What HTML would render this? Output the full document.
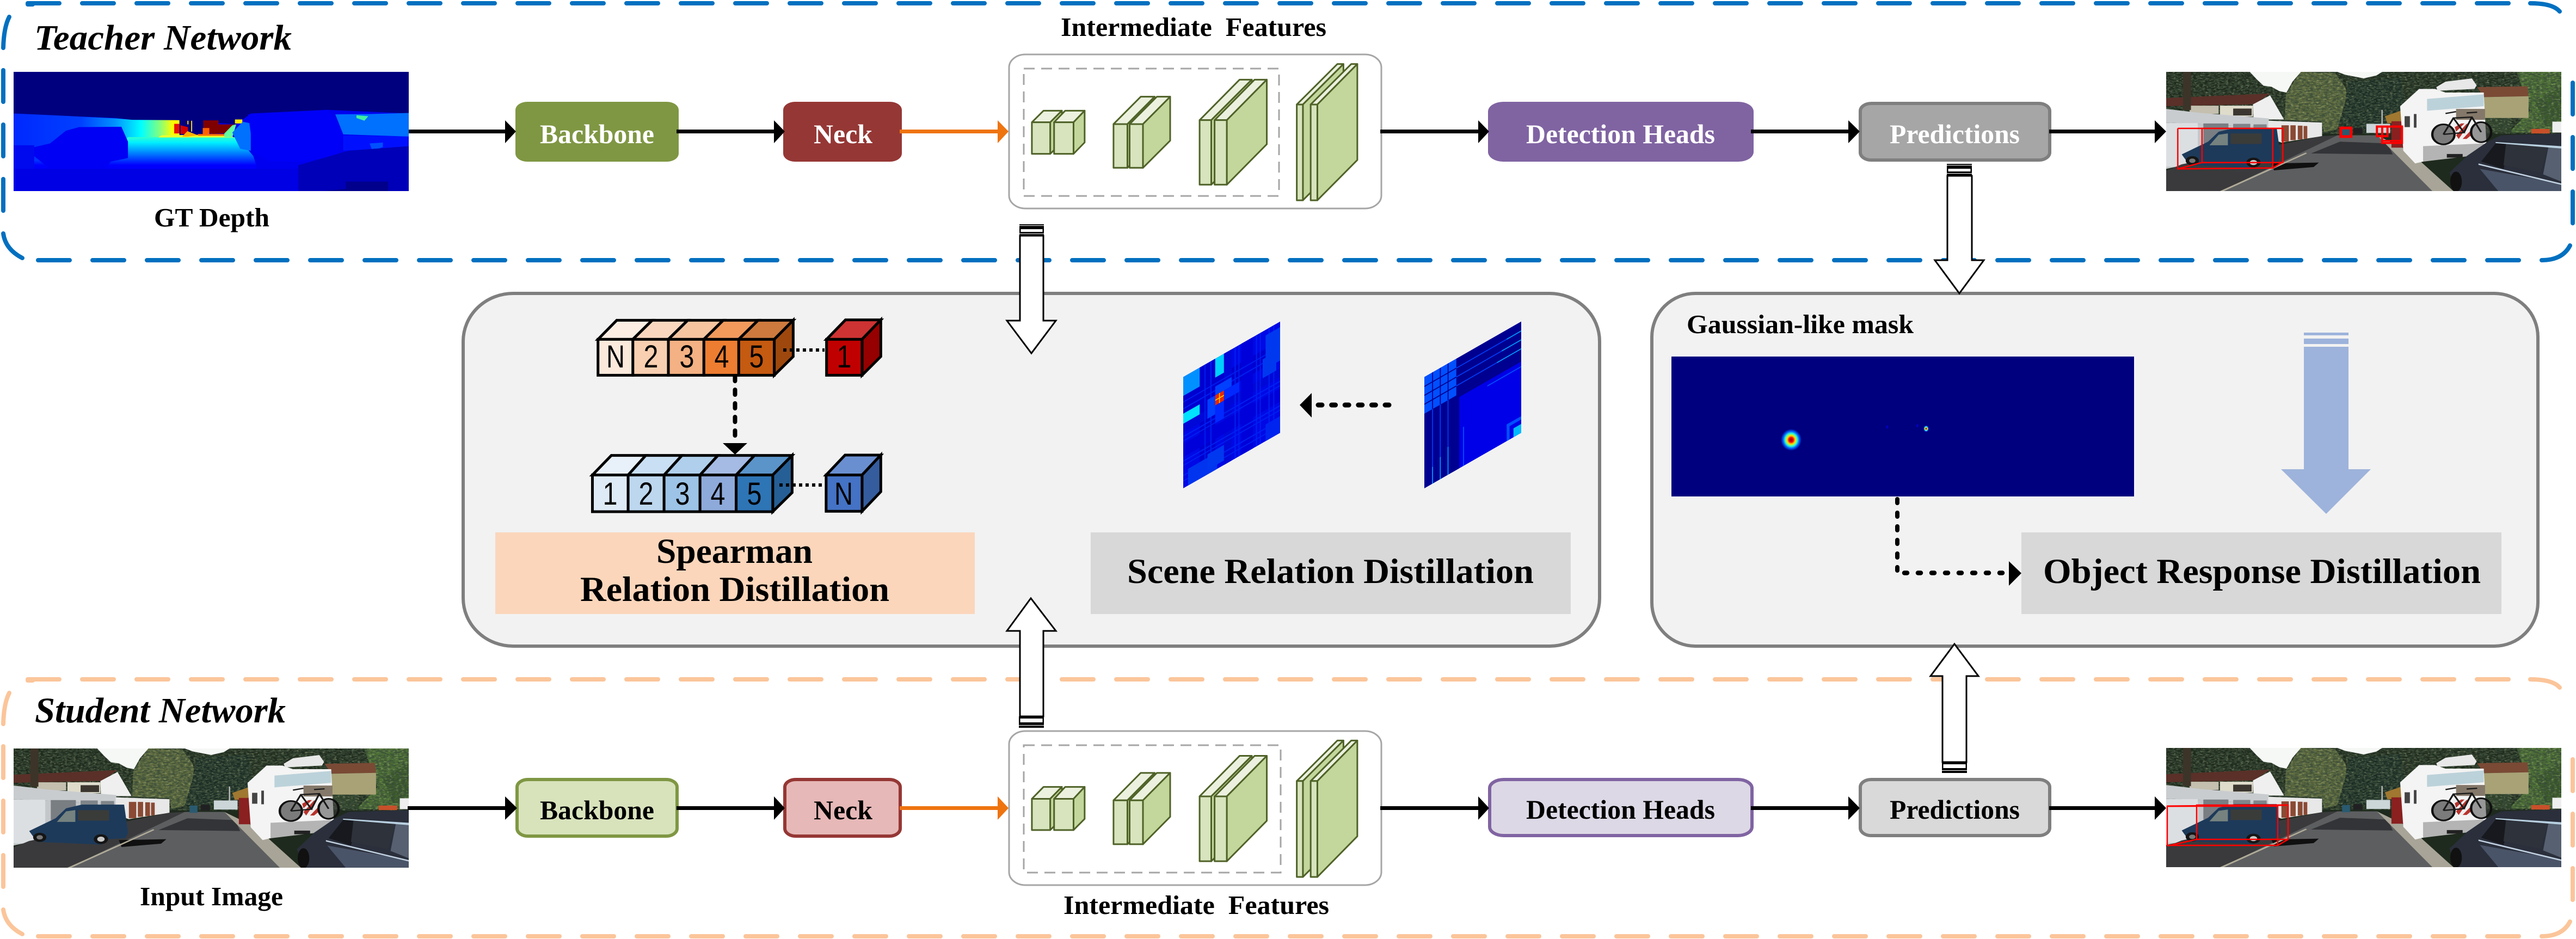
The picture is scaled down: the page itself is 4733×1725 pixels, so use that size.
<!DOCTYPE html>
<html>
<head>
<meta charset="utf-8">
<style>
html,body{margin:0;padding:0;background:#fff;width:4733px;height:1725px;overflow:hidden}
svg{display:block}
text{font-family:"Liberation Serif",serif;font-weight:bold;white-space:pre}
.d{font-family:"Liberation Sans",sans-serif;font-weight:normal;font-size:58px;text-anchor:middle;fill:#000}
.blk *{vector-effect:non-scaling-stroke;stroke:#4F6228;stroke-width:3;stroke-linejoin:round}
.f{fill:#D7E4BD}.t{fill:#EBF1DE}.s{fill:#C3D69B}
.cube *{vector-effect:non-scaling-stroke;stroke:#000;stroke-width:5;stroke-linejoin:miter}
.rb *{vector-effect:non-scaling-stroke;fill:none;stroke:#f00;stroke-width:2.5}
</style>
</head>
<body>
<svg xmlns="http://www.w3.org/2000/svg" width="4733" height="1725" viewBox="0 0 4733 1725">
<defs>
<linearGradient id="road" x1="0" y1="0" x2="0" y2="1">
<stop offset="0" stop-color="#30ffd0"/><stop offset=".1" stop-color="#00f0ff"/><stop offset=".27" stop-color="#0090ff"/><stop offset=".52" stop-color="#0000ff"/><stop offset="1" stop-color="#0000d8"/>
</linearGradient>
<linearGradient id="wall" x1="0" y1="0" x2="1" y2="0">
<stop offset="0" stop-color="#0028ff"/><stop offset=".3" stop-color="#0040ff"/><stop offset=".45" stop-color="#0090ff"/><stop offset=".57" stop-color="#00ffff"/><stop offset=".66" stop-color="#90ff70"/><stop offset=".71" stop-color="#ffff00"/><stop offset="1" stop-color="#ffff00"/>
</linearGradient>
<radialGradient id="gs">
<stop offset="0" stop-color="#900000"/><stop offset=".2" stop-color="#f00000"/><stop offset=".4" stop-color="#ffe000"/><stop offset=".58" stop-color="#30ffd0"/><stop offset=".78" stop-color="#0060ff"/><stop offset="1" stop-color="#00007F"/>
</radialGradient>
<filter id="dapD" x="0" y="0" width="1" height="1"><feTurbulence type="fractalNoise" baseFrequency=".07 .11" numOctaves="3" seed="4"/><feColorMatrix values="0 0 0 0 .04  0 0 0 0 .07  0 0 0 0 .04  3.4 0 0 0 -1.3"/></filter>
<filter id="dapL" x="0" y="0" width="1" height="1"><feTurbulence type="fractalNoise" baseFrequency=".09 .13" numOctaves="3" seed="11"/><feColorMatrix values="0 0 0 0 .42  0 0 0 0 .48  0 0 0 0 .26  3.4 0 0 0 -1.7"/></filter>
<g id="scene">
<rect x="41" y="36" width="1498" height="656" fill="#1e2a1d"/>
<polygon points="495,160 550,36 680,40 720,120 740,260 690,350 640,370 630,310 490,300" fill="#5f6b3e"/>
<polygon points="730,90 930,70 950,260 900,350 690,350 720,200" fill="#1a2c24"/>
<polygon points="1370,36 1539,36 1539,370 1340,370 1420,250" fill="#4c7034"/>
<polygon points="1440,200 1539,120 1539,300 1480,340" fill="#3a5a2a"/>
<rect x="1250" y="180" width="100" height="190" fill="#2c3f28"/>
<rect x="41" y="36" width="1498" height="340" filter="url(#dapL)" opacity=".55"/>
<rect x="41" y="36" width="1498" height="340" filter="url(#dapD)" opacity=".8"/>
<polygon points="358,36 552,36 520,90 497,150 470,142 440,118 410,112 385,78" fill="#f6f8f6"/>
<polygon points="690,36 860,36 838,56 790,72 720,52" fill="#f6f8f6"/>
<polygon points="870,280 930,250 940,310 880,320" fill="#a07830"/>
<rect x="857" y="245" width="5" height="90" fill="#bbb"/>
<polygon points="1220,120 1410,115 1415,170 1245,175" fill="#7a4a35"/>
<polygon points="1245,175 1415,170 1415,290 1250,290" fill="#a9a277"/>
<polygon points="41,180 435,155 375,215 130,222 41,225" fill="#5a3028"/>
<polygon points="370,215 435,165 488,298 428,298 372,290" fill="#efefef"/>
<rect x="130" y="222" width="110" height="45" fill="#c4bfae"/>
<rect x="245" y="222" width="125" height="60" fill="#dfdccc"/>
<rect x="295" y="238" width="70" height="38" fill="#3c3630"/>
<rect x="105" y="36" width="30" height="210" fill="#3c3428"/>
<polygon points="41,240 172,262 430,292 430,340 41,315" fill="#c9cccf"/>
<polygon points="41,315 430,340 430,450 41,570" fill="#c4c7ca"/>
<rect x="41" y="318" width="120" height="240" fill="#dcdfe2"/>
<rect x="182" y="320" width="95" height="110" fill="#797e83"/>
<rect x="295" y="322" width="65" height="60" fill="#7f858a"/>
<rect x="372" y="325" width="50" height="60" fill="#7f858a"/>
<polygon points="428,305 632,315 632,390 478,425 428,400" fill="#e8e8e8"/>
<rect x="478" y="330" width="28" height="90" fill="#8a4a34"/><rect x="512" y="330" width="20" height="82" fill="#8a4a34"/><rect x="540" y="332" width="18" height="76" fill="#8a4a34"/><rect x="562" y="334" width="14" height="70" fill="#8a4a34"/>
<polygon points="41,580 100,545 630,390 690,385 250,692 41,692" fill="#3a3a3c"/>
<polygon points="250,692 690,385 840,385 1050,692" fill="#5d5e60"/>
<polygon points="590,485 700,420 880,430 900,490" fill="#333437"/>
<polygon points="440,540 620,535 600,560 450,578" fill="#101010"/>
<polygon points="840,385 960,470 1130,692 1050,692" fill="#a8a598"/>
<polygon points="245,692 570,480 575,485 260,692" fill="#b0ab98"/>
<rect x="800" y="322" width="90" height="50" fill="#ccd5d8"/>
<rect x="708" y="350" width="30" height="40" fill="#2a5a70"/>
<rect x="750" y="345" width="35" height="32" fill="#202022"/>
<rect x="895" y="308" width="50" height="145" fill="#8a2020"/>
<polygon points="100,490 200,420 240,365 300,345 460,345 475,500 465,530 400,535 375,565 130,550" fill="#1d3a5a"/>
<polygon points="205,440 240,382 275,375 275,440" fill="#75827f"/>
<rect x="285" y="375" width="118" height="58" fill="#3a3c3a"/>
<circle cx="140" cy="525" r="25" fill="#151515"/><circle cx="140" cy="525" r="12" fill="#777"/>
<circle cx="372" cy="535" r="27" fill="#151515"/><circle cx="372" cy="535" r="14" fill="#c8c8c8"/>
<polygon points="928,225 1000,130 1060,130 1100,150 1245,150 1255,430 1245,485 1015,530 985,540 940,470" fill="#f4f4f4"/>
<polygon points="1065,120 1100,90 1200,72 1218,110 1210,130 1070,140" fill="#e8e8e8"/>
<polygon points="1030,185 1245,160 1245,225 1030,250" fill="#bcd2da"/>
<polygon points="1015,445 1245,430 1245,490 1015,530" fill="#b4b4b4"/>
<rect x="1140" y="240" width="110" height="60" fill="#84786a"/>
<rect x="945" y="280" width="20" height="60" fill="#444"/><rect x="980" y="268" width="10" height="75" fill="#444"/>
<rect x="1105" y="488" width="60" height="20" fill="#222"/>
<polygon points="1130,320 1190,318 1198,405 1135,405" fill="#eeeeee"/>
<polygon points="1135,340 1160,320 1172,320 1140,365" fill="#b8322c"/><polygon points="1140,385 1180,322 1190,322 1150,405" fill="#b8322c"/><polygon points="1165,405 1195,360 1197,385 1180,405" fill="#b8322c"/>
<ellipse cx="1092" cy="380" rx="42" ry="55" fill="#3a3a3a" fill-opacity=".65" stroke="#101010" stroke-width="9"/>
<ellipse cx="1235" cy="368" rx="38" ry="55" fill="#3a3a3a" fill-opacity=".5" stroke="#101010" stroke-width="9"/>
<path d="M1092,380 L1130,290 L1200,285 L1235,368 M1130,290 L1170,370 L1092,380 M1170,370 L1200,285 M1100,265 L1140,255 M1180,262 L1220,258" fill="none" stroke="#1a1a1a" stroke-width="7"/>
<rect x="1425" y="350" width="70" height="25" fill="#c8502a"/>
<rect x="1505" y="310" width="34" height="60" fill="#eee"/>
<polygon points="1115,590 1180,500 1260,420 1310,385 1539,375 1539,692 1140,692" fill="#2a2f3b"/>
<polygon points="1235,530 1290,430 1350,425 1320,570" fill="#17191e"/>
<polygon points="1330,425 1490,442 1460,590 1320,550" fill="#2e323a"/>
<polygon points="1490,450 1539,458 1539,640 1470,600" fill="#566070"/>
<polygon points="1290,422 1539,445 1539,458 1290,428" fill="#b8d0e0"/>
<polygon points="1230,570 1539,650 1539,692 1300,692" fill="#4a5468"/>
<polygon points="1225,540 1539,650 1539,658 1225,548" fill="#c0d0e0"/>
<ellipse cx="1140" cy="640" rx="22" ry="55" fill="#111"/>
</g>
</defs>

<rect width="4733" height="1725" fill="#fff"/>

<!-- Teacher frame -->
<g fill="none" stroke="#0070C0" stroke-width="8" stroke-linecap="round">
<line x1="51" y1="6" x2="4640" y2="6" stroke-dasharray="58 42"/>
<line x1="70" y1="478" x2="4660" y2="478" stroke-dasharray="58 42"/>
<line x1="6" y1="129" x2="6" y2="400" stroke-dasharray="58 42"/>
<line x1="4727" y1="152" x2="4727" y2="420" stroke-dasharray="58 42"/>
<path d="M51,8 H60"/>
<path d="M6,88 Q7,50 17,31"/>
<path d="M6,429 Q10,458 41,474"/>
<path d="M4649,6 Q4690,6 4703,21"/>
<path d="M4722,451 Q4708,478 4670,478"/>
</g>
<!-- Student frame -->
<g fill="none" stroke="#FBC59A" stroke-width="8" stroke-linecap="round">
<line x1="51" y1="1248" x2="4640" y2="1248" stroke-dasharray="58 42"/>
<line x1="70" y1="1720" x2="4660" y2="1720" stroke-dasharray="58 42"/>
<line x1="6" y1="1371" x2="6" y2="1640" stroke-dasharray="58 42"/>
<line x1="4727" y1="1395" x2="4727" y2="1660" stroke-dasharray="58 42"/>
<path d="M51,1250 H60"/>
<path d="M6,1330 Q7,1292 17,1273"/>
<path d="M6,1671 Q10,1700 41,1716"/>
<path d="M4649,1248 Q4690,1248 4703,1263"/>
<path d="M4722,1693 Q4708,1720 4670,1720"/>
</g>

<text x="63" y="91" font-size="66" font-style="italic" textLength="473" lengthAdjust="spacingAndGlyphs">Teacher Network</text>
<text x="64" y="1327" font-size="66" font-style="italic" textLength="461" lengthAdjust="spacingAndGlyphs">Student Network</text>

<!-- Depth -->
<svg x="25" y="132" width="726" height="219" viewBox="52 36 1496 656" preserveAspectRatio="none">
<rect x="52" y="36" width="1496" height="656" fill="#00007F"/>
<polygon points="52,265 200,275 440,290 500,300 690,302 895,325 950,265 1240,245 1548,265 1548,692 52,692" fill="#0000f0"/>
<polygon points="52,265 200,275 440,292 500,300 680,302 680,400 900,400 900,560 52,560" fill="url(#wall)"/>
<polygon points="485,395 900,395 960,500 1000,692 52,692 52,520 400,520" fill="url(#road)"/>
<polygon points="612,385 870,380 885,397 600,397" fill="#e8ff30"/>
<polygon points="52,440 130,440 130,692 52,692" fill="#0008ee"/>
<rect x="52" y="570" width="1100" height="122" fill="#0000e4"/>
<polygon points="660,322 680,322 680,375 660,375" fill="#e81000"/>
<polygon points="684,330 710,340 710,378 684,378" fill="#d00000"/>
<polygon points="710,360 750,385 710,392 690,392" fill="#ffb000"/>
<rect x="680" y="302" width="90" height="80" fill="#00007F"/>
<polygon points="684,330 712,340 712,378 684,378" fill="#d00000"/>
<polygon points="710,362 750,385 710,392 690,392" fill="#ffb000"/>
<polygon points="770,303 828,303 828,325 895,325 850,375 800,378 770,345" fill="#7f0000"/>
<rect x="768" y="345" width="25" height="40" fill="#ff6000"/>
<rect x="750" y="378" width="100" height="10" fill="#ff7000"/>
<rect x="890" y="298" width="28" height="22" fill="#ffe800"/>
<polygon points="850,375 880,330 895,325 880,395 850,395" fill="#60ffa0"/>
<rect x="710" y="305" width="4" height="20" fill="#ffe000"/><rect x="724" y="305" width="4" height="60" fill="#ffe000"/>
<polygon points="880,370 920,310 950,320 950,470 910,460" fill="#0070ff"/>
<polygon points="130,450 190,430 250,360 300,340 460,338 485,420 485,510 420,530 400,570 190,570 130,500" fill="#0000f4"/>
<polygon points="940,270 1240,245 1270,300 1300,380 1280,500 1140,530 1020,530 960,480" fill="#0000f8"/>
<polygon points="1270,270 1400,268 1548,262 1548,392 1300,380" fill="#0070ff"/>
<polygon points="1350,275 1395,280 1380,305 1350,290" fill="#40f0a0"/>
<polygon points="1300,385 1548,392 1548,450 1300,470" fill="#0010ff"/>
<polygon points="1400,430 1450,425 1450,450 1410,470" fill="#0050ff"/>
<polygon points="1130,550 1320,470 1548,445 1548,692 1130,692" fill="#0000b8"/>
<polygon points="1310,640 1470,640 1470,692 1220,692 1310,680" fill="#00008c"/>
</svg>
<text x="283" y="416" font-size="49" textLength="212" lengthAdjust="spacingAndGlyphs">GT Depth</text>

<!-- Teacher pred -->
<svg x="3980" y="132" width="726" height="219" viewBox="41 36 1498 656" preserveAspectRatio="none">
<use href="#scene"/>
<g class="rb">
<polyline points="85,347 483,347 483,532 445,565 85,570 85,347"/>
<line x1="445" y1="347" x2="445" y2="565"/>
<rect x="177" y="347" width="306" height="188"/>
<line x1="85" y1="570" x2="177" y2="535"/>
<rect x="703" y="345" width="39" height="47" style="stroke-width:5"/>
<rect x="840" y="337" width="40" height="53" style="stroke-width:4"/>
<rect x="860" y="337" width="75" height="90" style="stroke-width:4"/>
<line x1="860" y1="415" x2="935" y2="415" style="stroke-width:3"/>
</g>
</svg>

<!-- Student images -->
<svg x="25" y="1375" width="726" height="219" viewBox="41 36 1498 656" preserveAspectRatio="none"><use href="#scene"/></svg>
<text x="257" y="1663" font-size="49" textLength="263" lengthAdjust="spacingAndGlyphs">Input Image</text>
<svg x="3980" y="1374" width="726" height="219" viewBox="41 36 1498 656" preserveAspectRatio="none"><use href="#scene"/></svg>
<g fill="none" stroke="#f00" stroke-width="2.5">
<rect x="3982" y="1481" width="203" height="72"/>
<rect x="4036" y="1479" width="168" height="63"/>
<line x1="3982" y1="1554" x2="4036" y2="1542"/>
<line x1="4185" y1="1553" x2="4204" y2="1542"/>
<line x1="3982" y1="1481" x2="4204" y2="1479" stroke-width="3"/>
</g>

<!-- Teacher boxes -->
<rect x="947" y="187" width="300" height="110" rx="22" ry="15" fill="#7F9743"/>
<rect x="1439" y="187" width="218" height="110" rx="22" ry="15" fill="#953735"/>
<rect x="2734" y="187" width="488" height="110" rx="28" ry="18" fill="#8064A2"/>
<rect x="3418" y="190" width="348" height="104" rx="20" ry="14" fill="#A6A6A6" stroke="#7F7F7F" stroke-width="6"/>
<g fill="#fff">
<text x="992" y="263" font-size="50" textLength="210" lengthAdjust="spacingAndGlyphs">Backbone</text>
<text x="1495" y="263" font-size="50" textLength="108" lengthAdjust="spacingAndGlyphs">Neck</text>
<text x="2804" y="263" font-size="50" textLength="347" lengthAdjust="spacingAndGlyphs">Detection Heads</text>
<text x="3472" y="263" font-size="50" textLength="239" lengthAdjust="spacingAndGlyphs">Predictions</text>
</g>

<!-- Student boxes -->
<rect x="950" y="1432" width="294" height="104" rx="20" ry="14" fill="#D8E3BC" stroke="#7F9743" stroke-width="6"/>
<rect x="1442" y="1432" width="212" height="104" rx="20" ry="14" fill="#E6B8B7" stroke="#953735" stroke-width="6"/>
<rect x="2737" y="1432" width="482" height="103" rx="26" ry="16" fill="#DDD8E5" stroke="#8064A2" stroke-width="6"/>
<rect x="3418" y="1432" width="348" height="103" rx="20" ry="14" fill="#D9D9D9" stroke="#7F7F7F" stroke-width="6"/>
<g fill="#000">
<text x="992" y="1505" font-size="50" textLength="210" lengthAdjust="spacingAndGlyphs">Backbone</text>
<text x="1495" y="1505" font-size="50" textLength="108" lengthAdjust="spacingAndGlyphs">Neck</text>
<text x="2804" y="1504" font-size="50" textLength="347" lengthAdjust="spacingAndGlyphs">Detection Heads</text>
<text x="3472" y="1504" font-size="50" textLength="239" lengthAdjust="spacingAndGlyphs">Predictions</text>
</g>

<!-- Feature frames -->
<text x="1949" y="66" font-size="49" textLength="488" lengthAdjust="spacingAndGlyphs">Intermediate  Features</text>
<text x="1954" y="1679" font-size="49" textLength="488" lengthAdjust="spacingAndGlyphs">Intermediate  Features</text>
<rect x="1854" y="100" width="684" height="283" rx="30" ry="24" fill="#fff" stroke="#A6A6A6" stroke-width="3"/>
<rect x="1881" y="126" width="469" height="234" fill="none" stroke="#A6A6A6" stroke-width="3" stroke-dasharray="20 12"/>
<rect x="1854" y="1343" width="684" height="283" rx="30" ry="24" fill="#fff" stroke="#A6A6A6" stroke-width="3"/>
<rect x="1881" y="1369" width="472" height="234" fill="none" stroke="#A6A6A6" stroke-width="3" stroke-dasharray="20 12"/>

<g class="blk" transform="translate(1600,0) scale(1.0204,.3333)">
<polygon class="t" points="290,674 311,610 344,610 323,674"/><polygon class="s" points="323,674 344,610 344,785 323,848"/><rect class="f" x="290" y="674" width="33" height="174"/>
<polygon class="t" points="330,674 350,610 385,610 365,674"/><polygon class="s" points="365,674 385,610 385,785 365,848"/><rect class="f" x="330" y="674" width="35" height="174"/>
<polygon class="t" points="437,684 486,533 511,533 462,684"/><polygon class="s" points="462,684 511,533 511,775 462,925"/><rect class="f" x="437" y="684" width="25" height="241"/>
<polygon class="t" points="466,684 515,533 539,533 490,684"/><polygon class="s" points="490,684 539,533 539,775 490,925"/><rect class="f" x="466" y="684" width="24" height="241"/>
<polygon class="t" points="592,662 664,439 686,439 613,662"/><polygon class="s" points="613,662 686,439 686,795 613,1018"/><rect class="f" x="592" y="662" width="21" height="356"/>
<polygon class="t" points="619,662 691,439 713,439 641,662"/><polygon class="s" points="641,662 713,439 713,795 641,1018"/><rect class="f" x="619" y="662" width="22" height="356"/>
<polygon class="t" points="767,576 840,353 851,353 778,576"/><polygon class="s" points="778,576 851,353 851,880 778,1104"/><rect class="f" x="767" y="576" width="11" height="528"/>
<polygon class="t" points="792,576 865,353 876,353 804,576"/><polygon class="s" points="804,576 876,353 876,882 804,1104"/><rect class="f" x="792" y="576" width="12" height="528"/>
</g>
<g class="blk" transform="translate(1600,1180) scale(1.0204,.3476)">
<polygon class="t" points="290,827 311,764 344,764 323,827"/><polygon class="s" points="323,827 344,764 344,933 323,992"/><rect class="f" x="290" y="827" width="33" height="165"/>
<polygon class="t" points="330,827 350,764 385,764 365,827"/><polygon class="s" points="365,827 385,764 385,933 365,992"/><rect class="f" x="330" y="827" width="35" height="165"/>
<polygon class="t" points="437,835 486,690 511,690 462,835"/><polygon class="s" points="462,835 511,690 511,922 462,1067"/><rect class="f" x="437" y="835" width="25" height="232"/>
<polygon class="t" points="466,835 515,690 539,690 490,835"/><polygon class="s" points="490,835 539,690 539,922 490,1067"/><rect class="f" x="466" y="835" width="24" height="232"/>
<polygon class="t" points="592,814 664,600 686,600 613,814"/><polygon class="s" points="613,814 686,600 686,943 613,1157"/><rect class="f" x="592" y="814" width="21" height="343"/>
<polygon class="t" points="619,814 691,600 713,600 641,814"/><polygon class="s" points="641,814 713,600 713,943 641,1157"/><rect class="f" x="619" y="814" width="22" height="343"/>
<polygon class="t" points="767,733 840,519 851,519 778,733"/><polygon class="s" points="778,733 851,519 851,1025 778,1240"/><rect class="f" x="767" y="733" width="11" height="507"/>
<polygon class="t" points="792,733 865,519 876,519 804,733"/><polygon class="s" points="804,733 876,519 876,1025 804,1240"/><rect class="f" x="792" y="733" width="12" height="507"/>
</g>

<!-- Horizontal arrows -->
<g fill="#000">
<rect x="751" y="238" width="180" height="7"/><polygon points="928,221 948,241.5 928,263"/>
<rect x="1243" y="238" width="182" height="7"/><polygon points="1422,221 1442,241.5 1422,263"/>
<rect x="2536" y="238" width="183" height="7"/><polygon points="2716,221 2736,241.5 2716,263"/>
<rect x="3217" y="238" width="182" height="7"/><polygon points="3396,221 3417,241.5 3396,263"/>
<rect x="3765" y="238" width="197" height="7"/><polygon points="3959,221 3980,241.5 3959,263"/>
<rect x="749" y="1481" width="182" height="7"/><polygon points="928,1463 950,1484.5 928,1506"/>
<rect x="1243" y="1481" width="182" height="7"/><polygon points="1422,1463 1442,1484.5 1422,1506"/>
<rect x="2536" y="1481" width="183" height="7"/><polygon points="2716,1463 2736,1484.5 2716,1506"/>
<rect x="3217" y="1481" width="182" height="7"/><polygon points="3396,1463 3417,1484.5 3396,1506"/>
<rect x="3765" y="1481" width="197" height="7"/><polygon points="3959,1463 3980,1484.5 3959,1506"/>
</g>
<g fill="#EE7410">
<rect x="1653" y="238" width="183" height="7"/><polygon points="1833,221 1853,241.5 1833,263"/>
<rect x="1653" y="1481" width="183" height="7"/><polygon points="1833,1463 1853,1484.5 1833,1506"/>
</g>

<!-- Panels -->
<rect x="851" y="539" width="2088" height="648" rx="92" ry="88" fill="#F2F2F2" stroke="#7F7F7F" stroke-width="6"/>
<rect x="3035" y="539" width="1628" height="648" rx="80" ry="80" fill="#F2F2F2" stroke="#7F7F7F" stroke-width="6"/>

<rect x="910" y="978" width="881" height="150" fill="#FBD6BB"/>
<text x="1206" y="1034" font-size="65" textLength="287" lengthAdjust="spacingAndGlyphs">Spearman</text>
<text x="1066" y="1104" font-size="65" textLength="568" lengthAdjust="spacingAndGlyphs">Relation Distillation</text>
<rect x="2004" y="978" width="882" height="150" fill="#D8D8D8"/>
<text x="2071" y="1071" font-size="65" textLength="747" lengthAdjust="spacingAndGlyphs">Scene Relation Distillation</text>
<rect x="3714" y="978" width="882" height="150" fill="#D8D8D8"/>
<text x="3754" y="1071" font-size="65" textLength="804" lengthAdjust="spacingAndGlyphs">Object Response Distillation</text>
<text x="3099" y="612" font-size="49" textLength="417" lengthAdjust="spacingAndGlyphs">Gaussian-like mask</text>

<!-- Cubes -->
<g class="cube" transform="translate(1060,560) scale(.3954,.3333)">
<polygon points="98,190 185,85 350,85 260,190" fill="#FDEEE3"/>
<polygon points="260,190 350,85 515,85 425,190" fill="#F9D7BF"/>
<polygon points="425,190 515,85 680,85 590,190" fill="#F7C4A0"/>
<polygon points="590,190 680,85 842,85 752,190" fill="#F29A5C"/>
<polygon points="752,190 842,85 1005,85 917,190" fill="#CE7A3E"/>
<polygon points="917,190 1005,85 1005,285 917,388" fill="#9E480E"/>
<rect x="98" y="190" width="162" height="198" fill="#FBE9DC"/>
<rect x="260" y="190" width="165" height="198" fill="#F8CFB0"/>
<rect x="425" y="190" width="165" height="198" fill="#F4B183"/>
<rect x="590" y="190" width="162" height="198" fill="#ED7D31"/>
<rect x="752" y="190" width="165" height="198" fill="#C55A11"/>
<polygon points="1160,190 1248,83 1412,83 1325,190" fill="#CE3333"/>
<polygon points="1325,190 1412,83 1412,285 1325,388" fill="#960000"/>
<rect x="1160" y="190" width="165" height="198" fill="#C00000"/>
<polygon points="72,938 160,830 320,830 238,938" fill="#E8F1FA"/>
<polygon points="238,938 320,830 488,830 405,938" fill="#C9DFF3"/>
<polygon points="405,938 488,830 655,830 572,938" fill="#AFCFEC"/>
<polygon points="572,938 655,830 825,830 740,938" fill="#A5BBE3"/>
<polygon points="740,938 825,830 1000,830 910,938" fill="#5B94C9"/>
<polygon points="910,938 1000,830 1000,1035 910,1140" fill="#265F95"/>
<rect x="72" y="938" width="166" height="202" fill="#DEEAF6"/>
<rect x="238" y="938" width="167" height="202" fill="#BDD7EE"/>
<rect x="405" y="938" width="167" height="202" fill="#9DC3E6"/>
<rect x="572" y="938" width="168" height="202" fill="#8EAADB"/>
<rect x="740" y="938" width="170" height="202" fill="#2E75B6"/>
<polygon points="1158,938 1246,828 1412,828 1325,938" fill="#6A8FD0"/>
<polygon points="1325,938 1412,828 1412,1030 1325,1138" fill="#355D9E"/>
<rect x="1158" y="938" width="167" height="200" fill="#4472C4"/>
</g>
<text class="d" x="1131" y="675" textLength="34" lengthAdjust="spacingAndGlyphs">N</text><text class="d" x="1196" y="675" textLength="27" lengthAdjust="spacingAndGlyphs">2</text><text class="d" x="1262" y="675" textLength="27" lengthAdjust="spacingAndGlyphs">3</text><text class="d" x="1326" y="675" textLength="27" lengthAdjust="spacingAndGlyphs">4</text><text class="d" x="1390" y="675" textLength="27" lengthAdjust="spacingAndGlyphs">5</text><text class="d" x="1551" y="675" textLength="27" lengthAdjust="spacingAndGlyphs">1</text>
<text class="d" x="1121" y="927" textLength="27" lengthAdjust="spacingAndGlyphs">1</text><text class="d" x="1187" y="927" textLength="27" lengthAdjust="spacingAndGlyphs">2</text><text class="d" x="1254" y="927" textLength="27" lengthAdjust="spacingAndGlyphs">3</text><text class="d" x="1319" y="927" textLength="27" lengthAdjust="spacingAndGlyphs">4</text><text class="d" x="1386" y="927" textLength="27" lengthAdjust="spacingAndGlyphs">5</text><text class="d" x="1550" y="927" textLength="34" lengthAdjust="spacingAndGlyphs">N</text>

<line x1="1439" y1="643" x2="1515" y2="643" stroke="#000" stroke-width="6" stroke-dasharray="6 6"/>
<line x1="1432" y1="891" x2="1511" y2="891" stroke="#000" stroke-width="6" stroke-dasharray="6 6"/>
<line x1="1350.5" y1="691" x2="1350.5" y2="815" stroke="#000" stroke-width="8" stroke-linecap="round" stroke-dasharray="9 16"/>
<polygon points="1328,814 1373,814 1350.5,835" fill="#000"/>

<!-- Heatmap 1 -->
<g transform="matrix(1.78,-1.019,0,2.044,2174,692.6)">
<rect width="100" height="100" fill="#0008e6"/>
<rect x="17" width="16" height="100" fill="#0000d0"/><rect y="17" width="100" height="16" fill="#0000d0"/>
<rect x="42" width="8" height="100" fill="#0008d8"/><rect y="42" width="100" height="8" fill="#0008d8"/>
<rect x="60" width="12" height="100" fill="#0000da"/><rect y="60" width="100" height="12" fill="#0000da"/>
<g fill="#0020f0">
<rect x="53" width="1.2" height="100"/><rect x="57" width="1" height="100"/><rect x="75" width="1.2" height="100"/><rect x="79" width="1" height="100"/><rect x="88" width="1.2" height="100"/><rect x="93" width="1" height="100"/><rect x="22" width="1" height="100"/><rect x="28" width="1.2" height="100"/>
<rect y="53" height="1.2" width="100"/><rect y="57" height="1" width="100"/><rect y="75" height="1.2" width="100"/><rect y="79" height="1" width="100"/><rect y="88" height="1.2" width="100"/><rect y="93" height="1" width="100"/><rect y="22" height="1" width="100"/><rect y="28" height="1.2" width="100"/>
</g>
<rect x="85" y="5" width="15" height="30" fill="#0038f0"/><rect x="5" y="85" width="30" height="15" fill="#0034ee"/>
<rect x="85" y="85" width="15" height="15" fill="#0024f0"/>
<rect x="25" y="82" width="17" height="14" fill="#0038f0"/><rect x="82" y="25" width="14" height="17" fill="#0038f0"/>
<rect x="25" y="33" width="8" height="17" fill="#0040ff"/><rect x="33" y="25" width="17" height="8" fill="#0040ff"/>
<rect x="33" y="42" width="9" height="16" fill="#0028ff"/><rect x="42" y="33" width="16" height="9" fill="#0028ff"/>
<rect width="17" height="17" fill="#0090ff"/>
<rect x="33" width="9" height="17" fill="#00d0ff"/>
<rect y="33" width="17" height="9" fill="#00e0ff"/>
<rect x="33" y="33" width="9" height="9" fill="#e82800"/>
<rect x="37" y="33" width=".8" height="9" fill="#ffe000"/><rect x="33" y="37" width="9" height=".8" fill="#ffe000"/>
</g>
<!-- Heatmap 2 -->
<g transform="matrix(1.78,-1.019,0,2.044,2617,692.6)">
<rect width="100" height="100" fill="#0000e8"/>
<rect x="33" width="67" height="33" fill="#000090"/><rect y="33" width="33" height="67" fill="#000090"/>
<rect width="33" height="33" fill="#0050ff"/>
<rect x="33" y="33" width="3" height="67" fill="#000090"/><rect x="33" y="33" width="67" height="3" fill="#000090"/>
<g fill="#000090"><rect x="8" width="1" height="33"/><rect x="16" width="1" height="33"/><rect x="24" width="1" height="33"/><rect y="8" height="1" width="33"/><rect y="16" height="1" width="33"/><rect y="24" height="1" width="33"/></g>
<g fill="#0040ff"><rect x="8" y="33" width=".9" height="67"/><rect x="16" y="33" width=".9" height="67"/><rect x="24" y="33" width=".9" height="67"/><rect x="33" y="8" height=".9" width="67"/><rect x="33" y="16" height=".9" width="67"/><rect x="33" y="24" height=".9" width="67"/></g>
<g fill="#00a0ff"><rect x="8" y="85" width=".9" height="15"/><rect x="16" y="80" width=".9" height="20"/><rect x="24" y="75" width=".9" height="25"/><rect x="85" y="8" height=".9" width="15"/><rect x="80" y="16" height=".9" width="20"/><rect x="75" y="24" height=".9" width="25"/></g>
<rect x="65" y="40" width="35" height="1" fill="#0050ff"/><rect x="40" y="65" width="1" height="35" fill="#0050ff"/>
<rect x="92" y="92" width="8" height="8" fill="#00b8ff"/>
<rect x="85" y="85" width="3" height="15" fill="#0050ff"/><rect x="85" y="85" width="15" height="3" fill="#0050ff"/>
</g>
<line x1="2422" y1="744" x2="2569" y2="744" stroke="#000" stroke-width="9" stroke-linecap="round" stroke-dasharray="7 17.6"/>
<polygon points="2410,722 2388,744 2410,767" fill="#000"/>

<!-- Gaussian mask -->
<rect x="3071" y="655" width="850" height="257" fill="#00007F"/>
<ellipse cx="3291" cy="808" rx="19" ry="20" fill="url(#gs)"/>
<ellipse cx="3539" cy="787.5" rx="5" ry="6" fill="url(#gs)"/>
<ellipse cx="3467.5" cy="784.5" rx="2" ry="3" fill="#0000c0"/>
<ellipse cx="3523" cy="782" rx="2" ry="3" fill="#0000c0"/>
<line x1="3486" y1="917" x2="3486" y2="1048" stroke="#000" stroke-width="8" stroke-linecap="round" stroke-dasharray="7 18"/>
<line x1="3499" y1="1052.5" x2="3691" y2="1052.5" stroke="#000" stroke-width="8.5" stroke-linecap="round" stroke-dasharray="5 20"/>
<polygon points="3691,1031 3714,1053 3691,1076" fill="#000"/>

<!-- Blue arrow -->
<g fill="#9DB3DB">
<rect x="4233" y="611" width="82" height="5"/><rect x="4233" y="622" width="82" height="10"/>
<rect x="4233" y="637" width="82" height="226"/>
<polygon points="4191,862 4356,862 4274,944"/>
</g>

<!-- Hollow arrows -->
<g fill="#fff" stroke="#000" stroke-width="3">
<path d="M1874,433 V589 H1850 L1895,649 L1940,589 H1917 V433 Z"/>
<path d="M3578,323 V478 H3555 L3600,539 L3645,478 H3623 V323 Z"/>
<path d="M1874,1316 V1159 H1850 L1894,1099 L1940,1159 H1917 V1316 Z"/>
<path d="M3569,1400 V1242 H3547 L3591,1183 L3635,1242 H3613 V1400 Z"/>
</g>
<g fill="#000">
<rect x="1873" y="412" width="45" height="9"/><rect x="1873" y="426" width="45" height="7"/><rect x="1873" y="420.5" width="2.5" height="6"/><rect x="1915.5" y="420.5" width="2.5" height="6"/>
<rect x="3577" y="301" width="46" height="9"/><rect x="3577" y="315" width="46" height="8"/><rect x="3577" y="309" width="2.5" height="7"/><rect x="3620.5" y="309" width="2.5" height="7"/>
<rect x="1872" y="1316" width="46" height="4"/><rect x="1872" y="1327" width="46" height="10"/><rect x="1872" y="1320" width="2.5" height="8"/><rect x="1915.5" y="1320" width="2.5" height="8"/>
<rect x="3568" y="1400" width="46" height="4"/><rect x="3568" y="1411" width="46" height="9"/><rect x="3568" y="1404" width="2.5" height="8"/><rect x="3611.5" y="1404" width="2.5" height="8"/>
</g>
<g fill="#fff">
<rect x="1873" y="414" width="45" height="1"/><rect x="1873" y="429" width="45" height="1"/>
<rect x="3577" y="303" width="46" height="1"/><rect x="3577" y="318" width="46" height="1"/>
<rect x="1872" y="1332" width="46" height="1"/><rect x="3568" y="1415" width="46" height="1"/>
</g>
</svg>
</body>
</html>
